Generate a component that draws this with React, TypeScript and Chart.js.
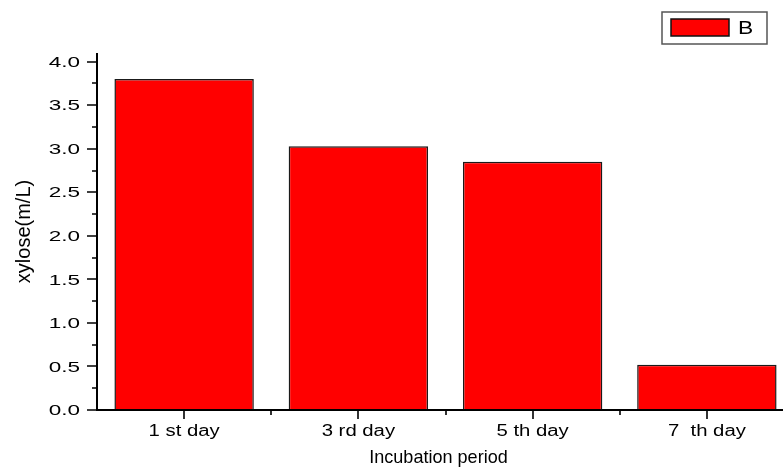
import React, { useEffect, useRef } from 'react';
import { Chart, registerables } from 'chart.js';

Chart.register(...registerables);

const categories = ['1 st day', '3 rd day', '5 th day', '7  th day'];
const seriesLabel = 'B';
const values = [3.8, 3.03, 2.85, 0.52];
const yMajorTicks = [0, 0.5, 1.0, 1.5, 2.0, 2.5, 3.0, 3.5, 4.0];
const yMinorTicks = [0.25, 0.75, 1.25, 1.75, 2.25, 2.75, 3.25, 3.75];
const yMin = 0;
const yMax = 4.1;
const xTitle = 'Incubation period';
const yTitle = 'xylose(m/L)';

const FONT = '"Liberation Sans", Arial, sans-serif';

const originPlugin = {
  id: 'originAxes',
  afterDraw(chart: any) {
    const ctx = chart.ctx as CanvasRenderingContext2D;
    const xs = chart.scales.x;
    const ys = chart.scales.y;
    const area = chart.chartArea;
    const left = Math.round(area.left);
    const bottom = Math.round(area.bottom);
    const n = categories.length;
    const step = xs.getPixelForValue(1) - xs.getPixelForValue(0);
    ctx.save();
    ctx.strokeStyle = '#000';
    ctx.fillStyle = '#000';

    // axis lines
    ctx.lineWidth = 2;
    ctx.beginPath();
    ctx.moveTo(left, Math.round(area.top));
    ctx.lineTo(left, bottom + 1);
    ctx.moveTo(left - 1, bottom);
    ctx.lineTo(Math.round(area.right), bottom);
    ctx.stroke();

    // ticks
    ctx.lineWidth = 1.6;
    ctx.beginPath();
    yMajorTicks.forEach((v) => {
      const py = Math.round(ys.getPixelForValue(v));
      ctx.moveTo(left - 10, py);
      ctx.lineTo(left, py);
    });
    yMinorTicks.forEach((v) => {
      const py = Math.round(ys.getPixelForValue(v));
      ctx.moveTo(left - 5, py);
      ctx.lineTo(left, py);
    });
    for (let i = 0; i < n; i++) {
      const px = Math.round(xs.getPixelForValue(i));
      ctx.moveTo(px, bottom);
      ctx.lineTo(px, bottom + 9);
    }
    for (let i = 1; i <= n; i++) {
      const px = Math.round(xs.getPixelForValue(i - 1) + step / 2);
      ctx.moveTo(px, bottom);
      ctx.lineTo(px, bottom + 5);
    }
    ctx.stroke();

    // y tick labels (horizontally stretched like the reference)
    ctx.font = `15px ${FONT}`;
    ctx.textAlign = 'right';
    ctx.textBaseline = 'middle';
    yMajorTicks.forEach((v) => {
      const py = ys.getPixelForValue(v);
      ctx.save();
      ctx.translate(left - 17, py + 1);
      ctx.scale(1.5, 1);
      ctx.fillText(v.toFixed(1), 0, 0);
      ctx.restore();
    });

    // x tick labels
    ctx.font = `16px ${FONT}`;
    ctx.textAlign = 'center';
    categories.forEach((c, i) => {
      const px = xs.getPixelForValue(i);
      ctx.save();
      ctx.translate(px, bottom + 22);
      ctx.scale(1.27, 1);
      ctx.fillText(c, 0, 0);
      ctx.restore();
    });

    // x title
    ctx.font = `19px ${FONT}`;
    ctx.save();
    ctx.translate((area.left + area.right) / 2 - 7, bottom + 48);
    ctx.scale(0.95, 1);
    ctx.fillText(xTitle, 0, 0);
    ctx.restore();

    // legend
    const ds = chart.data.datasets[0];
    const lx = 662;
    const ly = 12;
    ctx.lineWidth = 1.5;
    ctx.strokeStyle = '#555';
    ctx.fillStyle = '#fff';
    ctx.fillRect(lx, ly, 105, 32);
    ctx.strokeRect(lx, ly, 105, 32);
    ctx.fillStyle = ds.backgroundColor;
    ctx.fillRect(lx + 9, ly + 7, 58, 17);
    ctx.strokeStyle = '#111';
    ctx.strokeRect(lx + 9, ly + 7, 58, 17);
    ctx.fillStyle = '#000';
    ctx.font = `19px ${FONT}`;
    ctx.textAlign = 'left';
    ctx.textBaseline = 'middle';
    ctx.save();
    ctx.translate(lx + 76, ly + 17);
    ctx.scale(1.2, 1);
    ctx.fillText(ds.label, 0, 0);
    ctx.restore();

    ctx.restore();
  },
};

export default function App() {
  const ref = useRef<HTMLCanvasElement | null>(null);

  useEffect(() => {
    if (!ref.current) return;
    const chart = new Chart(ref.current, {
      type: 'bar',
      data: {
        labels: categories,
        datasets: [
          {
            label: seriesLabel,
            data: values,
            backgroundColor: '#ff0000',
            borderColor: '#1a1a1a',
            borderWidth: 1.5,
            barPercentage: 0.8,
            categoryPercentage: 1.0,
          },
        ],
      },
      options: {
        animation: false,
        responsive: false,
        devicePixelRatio: 1,
        layout: { padding: { left: 0, top: 53, right: 26, bottom: 0 } },
        plugins: {
          legend: { display: false },
          tooltip: { enabled: false },
        },
        scales: {
          x: {
            offset: true,
            grid: { display: false },
            border: { display: false },
            ticks: { display: false },
            title: { display: false, text: xTitle },
            afterFit: (s: any) => {
              s.height = 58;
            },
          },
          y: {
            min: yMin,
            max: yMax,
            grid: { display: false },
            border: { display: false },
            ticks: { display: false },
            title: {
              display: true,
              text: yTitle,
              color: '#000',
              font: { family: FONT, size: 20 },
              padding: { top: 12, bottom: 0 },
            },
            afterFit: (s: any) => {
              s.width = 97;
            },
          },
        },
      },
      plugins: [originPlugin],
    });
    return () => chart.destroy();
  }, []);

  return (
    <div
      style={{
        position: 'fixed',
        left: 0,
        top: 0,
        width: 783,
        height: 468,
        overflow: 'hidden',
        background: '#fff',
      }}
    >
      <canvas ref={ref} width={820} height={468} style={{ display: 'block', width: 820, height: 468 }} />
    </div>
  );
}
